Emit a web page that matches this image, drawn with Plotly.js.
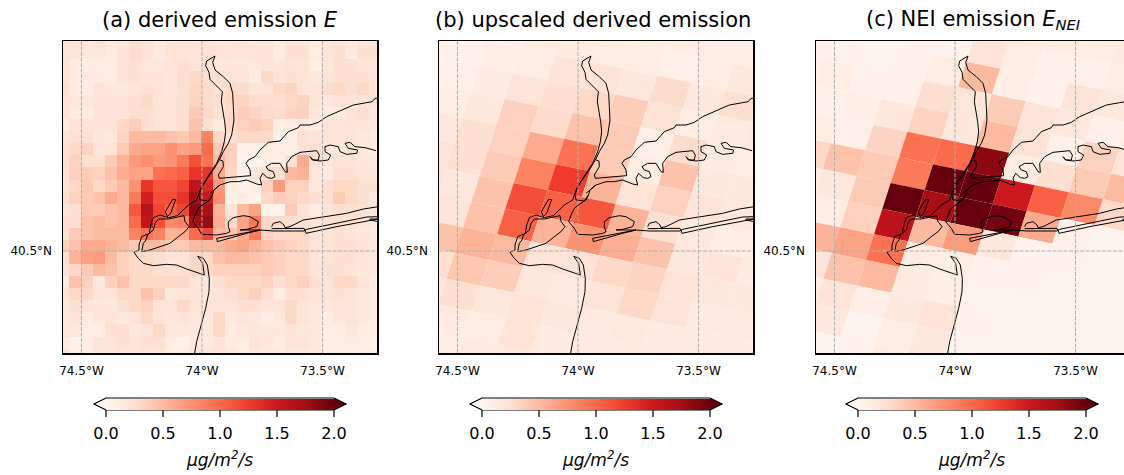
<!DOCTYPE html>
<html><head><meta charset="utf-8">
<script src="https://cdn.plot.ly/plotly-3.0.1.min.js"></script>
<style>html,body{margin:0;padding:0;background:#fff}</style></head>
<body><div id="chart" style="width:1124px;height:475px"></div>
<script>
// ---- data -----------------------------------------------------------------
const lonTicks = [-74.5, -74, -73.5];
const lonLabels = ['74.5°W', '74°W', '73.5°W'];
const latTicks = [40.5];
const latLabels = ['40.5°N'];
const cbarTicks = [0, 0.5, 1, 1.5, 2];
const cbarLabels = ['0.0', '0.5', '1.0', '1.5', '2.0'];

// (a) derived emission, fine grid, rows north to south
const derived = [
[.2,.2,.17,.2,.14,.18,.25,.2,.12,.2,.2,.22,.2,.18,.2,.2,.18,.17,.1,.2,.2,.12,.18,.2,.15,.2,.2],
[.2,.2,.17,.15,.1,.2,.27,.22,.13,.22,.22,.2,.2,.22,.2,.2,.22,.2,.1,.25,.25,.1,.2,.25,.12,.25,.25],
[.22,.12,.12,.1,.1,.2,.25,.17,.18,.2,.25,.22,.25,.15,.18,.15,.15,.2,.18,.2,.2,.07,.18,.25,.25,.2,.2],
[.22,.12,.12,.12,.1,.2,.25,.22,.2,.15,.25,.3,.25,.25,.2,.2,.12,.3,.2,.25,.2,.17,.2,.25,.25,.25,.2],
[.25,.12,.12,.2,.17,.17,.22,.25,.2,.15,.25,.32,.28,.22,.3,.27,.22,.22,.3,.33,.2,.2,.27,.3,.25,.3,.2],
[.2,.15,.15,.2,.2,.2,.25,.3,.22,.2,.25,.33,.28,.25,.3,.33,.27,.27,.25,.3,.33,.2,.17,.2,.2,.2,.2],
[.2,.12,.12,.2,.22,.22,.25,.25,.22,.22,.25,.4,.3,.2,.3,.38,.33,.28,.27,.33,.35,.18,.1,.12,.2,.25,.15],
[.1,.2,.2,.2,.2,.3,.38,.27,.2,.2,.25,.45,.25,.12,.32,.35,.4,.35,.1,.1,.15,.12,.2,.2,.22,.2,.15],
[.2,.25,.25,.17,.15,.32,.5,.5,.5,.45,.4,.5,.85,.3,.25,.3,.3,.3,.05,.05,.25,.2,.2,.2,.2,.15,.1],
[.25,.3,.33,.2,.22,.4,.6,.65,.65,.75,.65,.7,1.0,.4,.35,.05,.05,.1,.1,.08,.2,.25,.15,.15,.2,.15,.1],
[.25,.35,.25,.25,.4,.55,.7,.78,.7,.75,.9,1.15,.95,.5,.35,.02,.02,.1,.1,.25,.6,.25,.15,.2,.2,.15,.15],
[.2,.35,.38,.35,.45,.6,.65,.65,.95,1.0,1.05,1.3,1.3,.6,.3,.05,.2,.25,.25,.5,.55,.15,.12,.25,.25,.2,.2],
[.2,.3,.4,.3,.4,.5,.75,1.3,1.1,1.1,1.2,1.6,1.4,.7,.1,.05,.1,.35,.7,.35,.35,.15,.25,.3,.3,.25,.25],
[.25,.35,.4,.45,.6,.5,.9,1.45,1.15,1.15,1.3,1.75,1.5,.75,.05,.1,.05,.3,.4,.35,.3,.25,.25,.4,.3,.25,.15],
[.2,.25,.4,.4,.45,.5,1.1,1.65,1.2,1.05,1.2,1.85,1.7,.55,.2,.5,.65,.05,.03,.4,.2,.1,.2,.25,.25,.2,.2],
[.25,.25,.45,.5,.45,.5,1.0,1.55,1.15,.8,.85,1.75,1.8,.6,.3,.65,.9,.3,.3,.25,.25,.2,.25,.25,.25,.2,.15],
[.25,.4,.45,.5,.5,.5,.85,.95,.85,.55,.6,1.0,1.2,.5,.45,.6,.9,.35,.3,.3,.3,.2,.2,.25,.2,.15,.1],
[.35,.45,.6,.6,.55,.5,.4,.5,.5,.4,.4,.5,.5,.5,.6,.65,.55,.45,.4,.35,.3,.2,.2,.25,.25,.2,.15],
[.25,.55,.65,.7,.5,.35,.3,.3,.25,.2,.2,.3,.3,.45,.5,.5,.45,.4,.35,.3,.3,.2,.2,.25,.25,.2,.15],
[.2,.3,.4,.5,.45,.35,.3,.3,.25,.25,.25,.3,.3,.35,.35,.35,.35,.4,.35,.3,.3,.2,.25,.25,.2,.15,.15],
[.1,.45,.35,.15,.35,.45,.3,.3,.3,.3,.3,.2,.15,.25,.3,.3,.3,.35,.25,.3,.35,.25,.2,.3,.3,.2,.1],
[.2,.3,.3,.2,.2,.3,.3,.45,.35,.15,.2,.2,.15,.2,.25,.3,.35,.25,.1,.25,.25,.2,.2,.25,.2,.15,.1],
[.15,.25,.2,.15,.15,.25,.3,.35,.2,.2,.3,.2,.2,.2,.2,.25,.25,.2,.2,.3,.2,.15,.15,.2,.2,.15,.1],
[.15,.2,.1,.15,.2,.15,.2,.3,.2,.15,.2,.15,.15,.3,.15,.2,.15,.1,.15,.3,.2,.15,.1,.15,.2,.15,.1],
[.15,.15,.1,.1,.25,.25,.15,.2,.3,.15,.15,.15,.15,.3,.12,.15,.15,.15,.15,.2,.15,.15,.1,.1,.15,.1,.1],
[.1,.03,.1,.2,.2,.25,.2,.25,.25,.1,.05,.15,.15,.2,.12,.1,.2,.15,.1,.2,.2,.15,.1,.1,.1,.1,.05],
[.2,.05,.1,.2,.2,.2,.2,.2,.2,.1,.1,.15,.2,.2,.15,.1,.15,.15,.15,.15,.15,.15,.1,.1,.1,.1,.1]
];

// (b) upscaled derived emission, coarse tilted grid
const upscaled = [
[.06,.06,.06,.06,.08,.1,.1,.1,.08,.08,.1,.12,.12],
[.05,.05,.07,.1,.12,.1,.1,.07,.1,.15,.18,.2,.2],
[.05,.04,.08,.1,.2,.22,.15,.28,.15,.25,.2,.2,.2],
[.06,.07,.12,.2,.25,.3,.38,.23,.1,.13,.15,.15,.15],
[.08,.1,.15,.35,.28,.45,.4,.07,.27,.12,.1,.1,.1],
[.12,.15,.25,.35,.6,.95,.4,.1,.45,.15,.15,.13,.13],
[.2,.2,.25,.4,.85,1.25,.55,.2,.35,.2,.15,.13,.13],
[.2,.2,.15,.45,1.15,1.05,1.1,.55,.25,.15,.1,.1,.1],
[.3,.3,.2,.45,1.05,.55,.75,.58,.45,.15,.2,.12,.1],
[.3,.4,.45,.55,.5,.2,.2,.3,.33,.2,.17,.15,.1],
[.2,.2,.25,.42,.38,.17,.13,.2,.3,.2,.13,.13,.12],
[.12,.15,.15,.25,.17,.22,.15,.13,.14,.12,.12,.12,.12],
[.1,.1,.12,.12,.1,.22,.12,.13,.13,.12,.1,.1,.1],
[.08,.08,.1,.1,.13,.17,.1,.1,.1,.1,.1,.08,.08],
[.08,.08,.08,.08,.08,.08,.08,.08,.08,.08,.08,.08,.08]
];

// (c) NEI emission, same coarse grid
const nei = [
[.03,.03,.03,.03,.05,.1,.12,.1,.1,.12,.12,.12,.12],
[.03,.04,.02,.03,.03,.2,.1,.05,.06,.1,.12,.12,.12],
[.05,.04,.02,.03,.1,.5,.08,.03,.2,.15,.18,.2,.2],
[.06,.1,.03,.06,.25,.18,.4,.2,.15,.05,.1,.1,.1],
[.05,.05,.08,.15,.33,.15,.5,.22,.05,.35,.2,.15,.15],
[.1,.1,.07,.33,.95,1.0,1.85,.1,.25,.4,.5,.3,.3],
[.2,.3,.45,.4,.9,2.0,2.0,1.5,1.05,.8,.3,.2,.2],
[.1,.1,.15,.4,2.0,1.75,2.0,1.95,.6,.05,.02,.02,.02],
[.08,.1,.1,.35,1.6,.5,.7,.15,.03,.03,.02,.02,.02],
[.5,.55,.55,.65,.95,.1,.1,.03,.03,.02,.02,.02,.02],
[.2,.2,.2,.45,.5,.12,.08,.02,.02,.02,.02,.02,.02],
[.1,.1,.1,.2,.08,.15,.22,.03,.02,.02,.02,.02,.02],
[.05,.05,.1,.15,.02,.1,.15,.02,.02,.02,.02,.02,.02],
[.02,.02,.03,.02,.03,.12,.3,.03,.02,.02,.02,.02,.02],
[.02,.02,.02,.02,.03,.05,.1,.03,.02,.02,.02,.02,.02]
];

// coastline, projected map units (X east, Y south), one [X...],[Y...] pair per stretch
const coastX = [
 [465,440,437,447,450,470,487,484,490,494,497,493,485,470,450,425,415,410,385,365,352,325,300,280,272,268,245,237,237,222,235,250,280,320,350,380,433,428,413,430,442,448,447,437,425,410,403],
 [465,458,465,490,510,518,520,522,515,505,490,478,460,440,425,417,420,445,455,458,462,478],
 [347,338,316,322,332,347],
 [245,250,258,262,280,285,295,325,372,375,387,375,355,330,300,270,245],
 [480,489,490,475,478,510,550,572,570,558,565,585,600,625,660,685,715,720,750,775,800,840,880,920,937,945,955],
 [450,480,510,535,560,590,605,600,608,622,635,645,640,625,618,635,660,675,682,680,695,720,770,778,775,757,750,760,780,805,812,795,795,810,835,840,860,890,893,865,855,870,885,915,948],
 [458,450,430,415,405,398,415,425,470,500,510,505,505,520,550,570,595,590,560,540,600,640,733],
 [470,472,560,600,470],
 [635,640,660,672,675,690,730,790,860,910,955],
 [635,732,735],
 [735,738,830,955,955,920,740,735],
 [930,955,955,930,930]
];
const coastY = [
 [63,78,92,112,133,153,170,200,230,260,290,320,350,385,415,455,480,495,510,528,542,548,540,548,570,595,605,630,645,652,670,685,692,688,690,702,720,685,664,670,690,730,770,820,865,920,960],
 [63,82,105,125,145,175,215,255,300,325,350,375,405,435,455,480,495,498,485,478,465,450],
 [494,493,530,545,535,494],
 [650,625,615,600,585,565,552,552,542,560,575,590,605,625,635,645,650],
 [375,378,395,420,430,428,425,422,405,385,375,365,345,322,318,290,278,270,270,262,245,228,210,203,200,190,190],
 [475,450,440,440,435,447,450,430,415,428,430,425,410,405,395,385,385,410,412,385,365,352,347,360,375,375,365,375,378,375,360,350,335,330,335,350,358,355,345,340,325,322,335,338,347],
 [480,495,508,520,540,560,580,598,600,595,590,575,560,548,542,545,560,575,583,585,585,588,588],
 [610,620,595,585,610],
 [575,565,560,570,578,575,555,545,535,522,515],
 [581,580,588],
 [585,595,575,552,545,546,583,585],
 [552,552,560,555,552]
];

// ---- map frame: projection constants and grids ----------------------------
const toLon = X => -74 + (X - 426) / 723;
const toLat = Y => 40.5 - (Y - 648) / 951;
const W = 1124, H = 475;
const reds = [[0,'#fff5f0'],[.125,'#fee0d2'],[.25,'#fcbba1'],[.375,'#fc9272'],[.5,'#fb6a4a'],[.625,'#ef3b2c'],[.75,'#cb181d'],[.875,'#a50f15'],[1,'#67000d']];
function hex(c){return [1,3,5].map(k=>parseInt(c.substr(k,2),16));}
function redsColor(v){
  const t=Math.max(0,Math.min(1,v/2));
  for(let k=1;k<reds.length;k++){ if(t<=reds[k][0]){
    const a=hex(reds[k-1][1]),b=hex(reds[k][1]),f=(t-reds[k-1][0])/(reds[k][0]-reds[k-1][0]);
    return 'rgb('+a.map((q,n)=>Math.round(q+(b[n]-q)*f)).join(',')+')';}}
  return reds[8][1];
}
const panels = [
 {left:63,  right:377,  barLeft:106, title:'(a) derived emission <i>E</i>', center:220},
 {left:439, right:753,  barLeft:482, title:'(b) upscaled derived emission', center:593},
 {left:816, right:1124, barLeft:858, title:'(c) NEI emission <i>E<sub>NEI</sub></i>', center:973}
];
const top_=41, bottom_=353, barW=228, barTop=398, barBottom=410;
const px = v=>v/W, py = v=>1-v/H;

const traces=[], shapes=[], annotations=[], layout={};
const gridCorner=(i,j)=>[283+102*i-25*j, 290+21*i+77*j];
const cbar=(p)=>({orientation:'h',lenmode:'pixels',len:barW,thicknessmode:'pixels',thickness:barBottom-barTop-1,
  x:px(p.barLeft+barW/2),xanchor:'center',xref:'paper',y:py(barTop+0.5),yanchor:'top',yref:'paper',xpad:0,ypad:0,
  outlinewidth:0,tickmode:'array',tickvals:cbarTicks,ticktext:cbarLabels,ticks:'outside',ticklen:10,tickwidth:1,tickcolor:'rgba(0,0,0,0)',
  tickfont:{family:'DejaVu Sans',size:16,color:'#000'}});

panels.forEach((p,n)=>{
  const s=n?String(n+1):'', xa='x'+s, ya='y'+s;
  const X0=9, X1=9+3*(p.right-p.left), Y0=18, Y1=954;
  layout['xaxis'+s]={domain:[px(p.left),px(p.right)],range:[toLon(X0),toLon(X1)],anchor:ya,
    showgrid:false,zeroline:false,showline:true,mirror:true,linecolor:'#000',linewidth:1.5,
    tickmode:'array',tickvals:lonTicks,ticktext:lonLabels,ticks:'outside',ticklen:6,tickcolor:'rgba(0,0,0,0)',
    tickfont:{family:'DejaVu Sans',size:12,color:'#000'}};
  layout['yaxis'+s]={domain:[py(bottom_),py(top_)],range:[toLat(Y1),toLat(Y0)],anchor:xa,
    showgrid:false,zeroline:false,showline:true,mirror:n<2,linecolor:'#000',linewidth:1.5,
    tickmode:'array',tickvals:latTicks,ticktext:latLabels,ticks:'outside',ticklen:7,tickcolor:'rgba(0,0,0,0)',
    tickfont:{family:'DejaVu Sans',size:12,color:'#000'}};
  if(n===0){
    const xe=[],ye=[];
    for(let k=0;k<=derived[0].length;k++) xe.push(toLon(-9+36*k));
    for(let k=0;k<=derived.length;k++) ye.push(toLat(-1+36.2*k));
    traces.push({type:'heatmap',x:xe,y:ye,z:derived,zmin:0,zmax:2,colorscale:reds,xaxis:xa,yaxis:ya,hoverinfo:'skip',colorbar:cbar(p)});
  } else {
    const m=n===1?upscaled:nei, cx=[],cy=[],cz=[];
    m.forEach((row,r)=>row.forEach((v,c)=>{
      const i=c-4,j=r-5, A=gridCorner(i,j),B=gridCorner(i+1,j),C=gridCorner(i+1,j+1),D=gridCorner(i,j+1);
      traces.push({type:'scatter',mode:'lines',x:[A,B,C,D,A].map(q=>toLon(q[0])),y:[A,B,C,D,A].map(q=>toLat(q[1])),
        fill:'toself',fillcolor:redsColor(v),line:{width:0},xaxis:xa,yaxis:ya,hoverinfo:'skip',showlegend:false});
      const G=gridCorner(i+.5,j+.5); cx.push(toLon(G[0]));cy.push(toLat(G[1]));cz.push(v);
    }));
    traces.push({type:'scatter',mode:'markers',x:cx,y:cy,xaxis:xa,yaxis:ya,hoverinfo:'skip',showlegend:false,
      marker:{size:1,opacity:0,color:cz,cmin:0,cmax:2,colorscale:reds,showscale:true,colorbar:cbar(p)}});
  }
  coastX.forEach((cxs,k)=>traces.push({type:'scatter',mode:'lines',x:cxs.map(toLon),y:coastY[k].map(toLat),
    line:{color:'#000',width:1},xaxis:xa,yaxis:ya,hoverinfo:'skip',showlegend:false}));
  const grid={color:'#b0b0b0',width:1,dash:'4px,1.5px'};
  lonTicks.forEach(v=>shapes.push({type:'line',xref:xa,yref:ya+' domain',x0:v,x1:v,y0:0,y1:1,layer:'above',line:grid}));
  latTicks.forEach(v=>shapes.push({type:'line',xref:xa+' domain',yref:ya,x0:0,x1:1,y0:v,y1:v,layer:'above',line:grid}));
  annotations.push({xref:'paper',yref:'paper',x:px(p.center),y:py(20),xanchor:'center',yanchor:'middle',showarrow:false,text:p.title,
    font:{family:'DejaVu Sans',size:21,color:'#000'}});
  annotations.push({xref:'paper',yref:'paper',x:px(p.barLeft+barW/2-1),y:py(459),xanchor:'center',yanchor:'middle',showarrow:false,text:'<i>μg/m<sup>2</sup>/s</i>',
    font:{family:'DejaVu Sans',size:17,color:'#000'}});
  // extend arrows and tick marks of the colour bar
  const L=p.barLeft,R=L+barW,M=(barTop+barBottom)/2;
  const pt=(a,b)=>px(a).toFixed(5)+','+py(b).toFixed(5);
  shapes.push({type:'path',xref:'paper',yref:'paper',path:'M'+pt(L,barTop)+' L'+pt(L-12,M)+' L'+pt(L,barBottom)+' Z',fillcolor:'#fff5f0',line:{width:0}});
  shapes.push({type:'path',xref:'paper',yref:'paper',path:'M'+pt(R,barTop)+' L'+pt(R+12,M)+' L'+pt(R,barBottom)+' Z',fillcolor:'#67000d',line:{width:0}});
  shapes.push({type:'path',xref:'paper',yref:'paper',path:'M'+pt(L,barTop)+' L'+pt(R,barTop)+' L'+pt(R+12,M)+' L'+pt(R,barBottom)+' L'+pt(L,barBottom)+' L'+pt(L-12,M)+' Z',
    fillcolor:'rgba(0,0,0,0)',line:{color:'#000',width:1.2}});
  cbarTicks.forEach(v=>{const tx=px(L+barW*v/2);
    shapes.push({type:'line',xref:'paper',yref:'paper',x0:tx,x1:tx,y0:py(barBottom),y1:py(barBottom+7),line:{color:'#000',width:1.2}});});
});
Object.assign(layout,{width:W,height:H,margin:{l:0,r:0,t:0,b:0},paper_bgcolor:'#fff',plot_bgcolor:'#fff',showlegend:false,shapes,annotations});
Plotly.newPlot('chart',traces,layout,{displayModeBar:false,staticPlot:true});
</script></body></html>
